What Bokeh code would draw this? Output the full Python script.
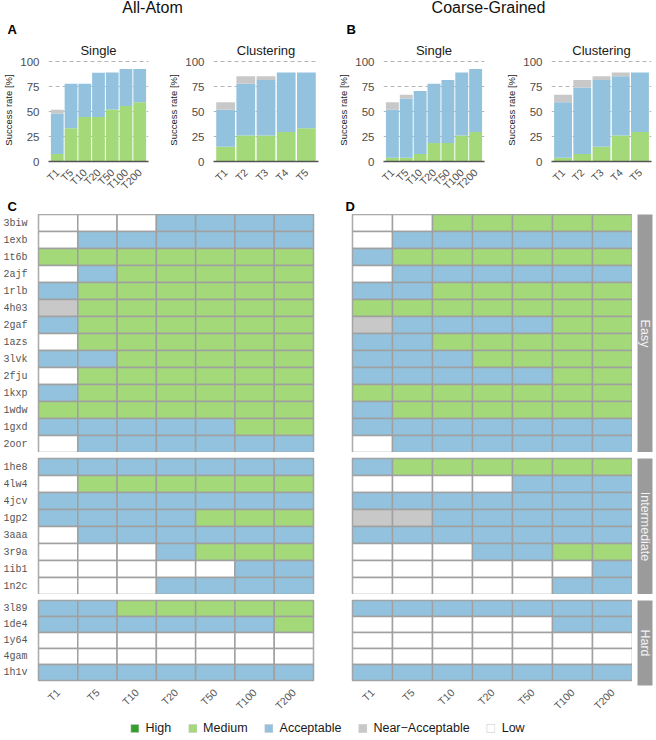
import math
from bokeh.plotting import figure
from bokeh.layouts import row, column
from bokeh.models import FactorRange, Range1d, FixedTicker, Legend, LegendItem, ColumnDataSource
from bokeh.core.properties import value
from bokeh.embed import file_html
from bokeh.resources import INLINE

SANS = "Liberation Sans"
MONO = "Liberation Mono"

# ---------------- data ----------------
single_cutoffs = ["T1", "T5", "T10", "T20", "T50", "T100", "T200"]
cluster_cutoffs = ["T1", "T2", "T3", "T4", "T5"]

# success rates [%] per class (stacked: Medium, Acceptable, Near-Acceptable)
aa_single_medium = [7.4, 33.3, 44.4, 44.4, 51.9, 55.6, 59.3]
aa_single_acceptable = [40.7, 44.4, 33.3, 44.4, 37.0, 37.0, 33.3]
aa_single_near = [3.7, 0, 0, 0, 0, 0, 0]

aa_cluster_medium = [14.8, 25.9, 25.9, 29.6, 33.3]
aa_cluster_acceptable = [37.0, 51.9, 55.6, 59.3, 55.6]
aa_cluster_near = [7.4, 7.4, 3.7, 0, 0]

cg_single_medium = [3.7, 3.7, 7.4, 18.5, 18.5, 25.9, 29.6]
cg_single_acceptable = [48.1, 59.3, 63.0, 59.3, 63.0, 63.0, 63.0]
cg_single_near = [7.4, 3.7, 0, 0, 0, 0, 0]

cg_cluster_medium = [3.7, 7.4, 14.8, 25.9, 29.6]
cg_cluster_acceptable = [55.6, 66.7, 66.7, 59.3, 59.3]
cg_cluster_near = [7.4, 7.4, 3.7, 3.7, 0]

easy_targets = ["3biw", "1exb", "1t6b", "2ajf", "1rlb", "4h03", "2gaf", "1azs",
                "3lvk", "2fju", "1kxp", "1wdw", "1gxd", "2oor"]
inter_targets = ["1he8", "4lw4", "4jcv", "1gp2", "3aaa", "3r9a", "1ib1", "1n2c"]
hard_targets = ["3l89", "1de4", "1y64", "4gam", "1h1v"]

# class per target for T1..T200: L=Low, N=Near-Acceptable, A=Acceptable, M=Medium, H=High
aa_easy = ["LLLAAAA", "LAAAAAA", "MMMMMMM", "LAMMMMM", "AMMMMMM", "NMMMMMM", "AMMMMMM",
           "LMMMMMM", "AAMMMMM", "LMMMMMM", "AMMMMMM", "MMMMMMM", "AAAAAMM", "LAAAAAA"]
aa_inter = ["AAAAAAA", "LMMMMMM", "AAAAAAA", "AAAAMMM", "LAAAAAA", "LLLAMMM", "LLLLLAA", "LLLAAAA"]
aa_hard = ["AAMMMMM", "AAAAAAM", "LLLLLLL", "LLLLLLL", "AAAAAAA"]

cg_easy = ["LLMMMMM", "LAAAAAA", "AMMMMMM", "LAAAAAA", "AAMMMMM", "MMMMMMM", "NAAAAMM",
           "AAMMMMM", "AAAMMMM", "AAAAAMM", "MMMMMMM", "AMMMMMM", "AAAAAAA", "LAAAAAA"]
cg_inter = ["AMMMMMM", "LLLLAAA", "AAAAAAA", "NNAAAAA", "AAAAAAA", "LLLAAMM", "LLLLLLA", "LLLLLAA"]
cg_hard = ["AAAAAAA", "LLLLLAA", "LLLLLLL", "LLLLLLL", "AAAAAAA"]

legend_labels = ["High", "Medium", "Acceptable", "Near\u2212Acceptable", "Low"]

# ---------------- style ----------------
HIGH = "#33a02c"
MED = "#a3d978"
ACC = "#92c2dd"
NEAR = "#c8c8c8"
LOW = "#ffffff"
CELL_LINE = "#a0a0a0"
STRIP = "#9b9b9b"
COLORS = {"H": HIGH, "M": MED, "A": ACC, "N": NEAR, "L": LOW}
legend_colors = [HIGH, MED, ACC, NEAR, LOW]


def blank_fig(w, h):
    p = figure(width=w, height=h, x_range=Range1d(0, w), y_range=Range1d(0, h),
               min_border=0, toolbar_location=None, output_backend="svg",
               x_axis_location=None, y_axis_location=None)
    p.grid.visible = False
    p.outline_line_color = None
    return p


def bar_fig(title, cutoffs, med, acc, near, width, left, right):
    p = figure(x_range=FactorRange(*cutoffs, range_padding=0.04), y_range=Range1d(0, 103),
               width=width, height=160, min_border_left=left, min_border_right=right,
               min_border_top=20, min_border_bottom=36, toolbar_location=None,
               output_backend="svg", title=title)
    src = ColumnDataSource(dict(x=cutoffs, Medium=med, Acceptable=acc, Near=near))
    p.vbar_stack(["Medium", "Acceptable", "Near"], x="x", width=0.93, source=src,
                 fill_color=[MED, ACC, NEAR], line_color=None)
    p.title.text_font = SANS
    p.title.text_font_size = "13px"
    p.title.text_font_style = "normal"
    p.title.text_color = "#1a1a1a"
    p.title.align = "center"
    p.title.standoff = 1
    p.outline_line_color = None
    p.xgrid.visible = False
    p.yaxis.ticker = FixedTicker(ticks=[0, 25, 50, 75, 100])
    p.ygrid.ticker = FixedTicker(ticks=[25, 50, 75, 100])
    p.ygrid.grid_line_color = "#b5b5b5"
    p.ygrid.grid_line_dash = "4 3"
    p.ygrid.grid_line_width = 1
    p.yaxis.axis_label = "Success rate [%]"
    p.yaxis.axis_label_text_font = SANS
    p.yaxis.axis_label_text_font_size = "9.5px"
    p.yaxis.axis_label_text_font_style = "normal"
    p.yaxis.axis_label_text_color = "#1a1a1a"
    p.yaxis.axis_label_standoff = 3
    p.yaxis.major_label_text_font = SANS
    p.yaxis.major_label_text_font_size = "11.5px"
    p.yaxis.major_label_text_color = "#4d4d4d"
    p.yaxis.major_label_standoff = 3
    p.yaxis.axis_line_color = None
    p.yaxis.major_tick_line_color = None
    p.yaxis.minor_tick_line_color = None
    p.xaxis.axis_line_color = "#555555"
    p.xaxis.axis_line_width = 1.3
    p.xaxis.major_tick_line_color = None
    p.xaxis.major_label_orientation = math.pi / 4
    p.xaxis.major_label_text_font = SANS
    p.xaxis.major_label_text_font_size = "10.5px"
    p.xaxis.major_label_text_color = "#4d4d4d"
    p.xaxis.major_label_standoff = 3
    return p


def heat_fig(targets, codes, width, height, left, right, top, bottom, show_y, show_x):
    p = figure(x_range=FactorRange(*single_cutoffs), y_range=FactorRange(*reversed(targets)),
               width=width, height=height, min_border_left=left, min_border_right=right,
               min_border_top=top, min_border_bottom=bottom, toolbar_location=None,
               output_backend="svg",
               x_axis_location="below" if show_x else None,
               y_axis_location="left" if show_y else None)
    xs, ys, cols = [], [], []
    for t, code in zip(targets, codes):
        for c, ch in zip(single_cutoffs, code):
            xs.append(c)
            ys.append(t)
            cols.append(COLORS[ch])
    p.rect(x=xs, y=ys, width=1, height=1, fill_color=cols, line_color=CELL_LINE, line_width=1.5)
    p.grid.visible = False
    p.outline_line_color = CELL_LINE
    p.outline_line_width = 1.5
    if show_y:
        p.yaxis.axis_line_color = None
        p.yaxis.major_tick_line_color = None
        p.yaxis.major_label_text_font = MONO
        p.yaxis.major_label_text_font_size = "10px"
        p.yaxis.major_label_text_color = "#555555"
        p.yaxis.major_label_standoff = 5
    if show_x:
        p.xaxis.axis_line_color = None
        p.xaxis.major_tick_line_color = None
        p.xaxis.major_label_orientation = math.pi / 4
        p.xaxis.major_label_text_font = SANS
        p.xaxis.major_label_text_font_size = "10.5px"
        p.xaxis.major_label_text_color = "#555555"
        p.xaxis.major_label_standoff = 4
    return p


def strip_fig(label, height, top, bottom):
    p = figure(x_range=Range1d(0, 1), y_range=Range1d(0, 1), width=22, height=height,
               min_border_left=5, min_border_right=2, min_border_top=top,
               min_border_bottom=bottom, toolbar_location=None, output_backend="svg",
               x_axis_location=None, y_axis_location=None)
    p.grid.visible = False
    p.outline_line_color = None
    p.background_fill_color = STRIP
    p.text(x=[0.5], y=[0.5], text=[label], angle=-math.pi / 2, text_align="center",
           text_baseline="middle", text_color="#f2f2f2", text_font=value(SANS),
           text_font_size="12.5px")
    return p


# ---------------- header ----------------
hdr = blank_fig(654, 38)
hdr.text(x=[152, 488], y=[31, 31], text=["All-Atom", "Coarse-Grained"], text_align="center",
         text_baseline="middle", text_font=value(SANS), text_font_size="16px", text_color="#111111")
hdr.text(x=[7, 346], y=[9, 9], text=["A", "B"], text_align="left", text_baseline="middle",
         text_font=value(SANS), text_font_size="13px", text_font_style="bold", text_color="#000000")

b1 = bar_fig("Single", single_cutoffs, aa_single_medium, aa_single_acceptable, aa_single_near, 165, 43, 17)
b2 = bar_fig("Clustering", cluster_cutoffs, aa_cluster_medium, aa_cluster_acceptable, aa_cluster_near, 170, 47, 17)
b3 = bar_fig("Single", single_cutoffs, cg_single_medium, cg_single_acceptable, cg_single_near, 165, 48, 16)
b4 = bar_fig("Clustering", cluster_cutoffs, cg_cluster_medium, cg_cluster_acceptable, cg_cluster_near, 154, 51, 3)

cd = blank_fig(654, 16)
cd.text(x=[7, 345], y=[8, 8], text=["C", "D"], text_align="left", text_baseline="middle",
        text_font=value(SANS), text_font_size="13px", text_font_style="bold", text_color="#000000")

ROW_H = 17
h_easy = ROW_H * len(easy_targets)
h_inter = ROW_H * len(inter_targets) + 6
h_hard = ROW_H * len(hard_targets) + 6 + 33

c1 = heat_fig(easy_targets, aa_easy, 330, h_easy, 37, 17, 0, 0, True, False)
c2 = heat_fig(inter_targets, aa_inter, 330, h_inter, 37, 17, 6, 0, True, False)
c3 = heat_fig(hard_targets, aa_hard, 330, h_hard, 37, 17, 6, 33, True, True)

d1 = heat_fig(easy_targets, cg_easy, 302, h_easy, 22, 0, 0, 0, False, False)
d2 = heat_fig(inter_targets, cg_inter, 302, h_inter, 22, 0, 6, 0, False, False)
d3 = heat_fig(hard_targets, cg_hard, 302, h_hard, 22, 0, 6, 33, False, True)

s1 = strip_fig("Easy", h_easy, 0, 0)
s2 = strip_fig("Intermediate", h_inter, 6, 0)
s3 = strip_fig("Hard", h_hard, 6, 33)

# ---------------- legend ----------------
lg = blank_fig(654, 20)
items = []
for lab, col in zip(legend_labels, legend_colors):
    r = lg.rect(x=[-100], y=[-100], width=1, height=1, fill_color=col, line_color="#c8c8c8", line_width=0.6)
    items.append(LegendItem(label=lab, renderers=[r]))
leg = Legend(items=items, orientation="horizontal", location="center",
             glyph_width=10, glyph_height=10, label_standoff=6, spacing=16,
             padding=0, margin=0, border_line_color=None, background_fill_alpha=0,
             label_text_font=SANS, label_text_font_size="12.5px", label_text_color="#1a1a1a",
             label_height=14)
lg.add_layout(leg)

layout = column(
    hdr,
    row(b1, b2, b3, b4),
    cd,
    row(column(c1, c2, c3), column(d1, d2, d3), column(s1, s2, s3)),
    lg,
)

open("out.html", "w").write(file_html(layout, INLINE))
